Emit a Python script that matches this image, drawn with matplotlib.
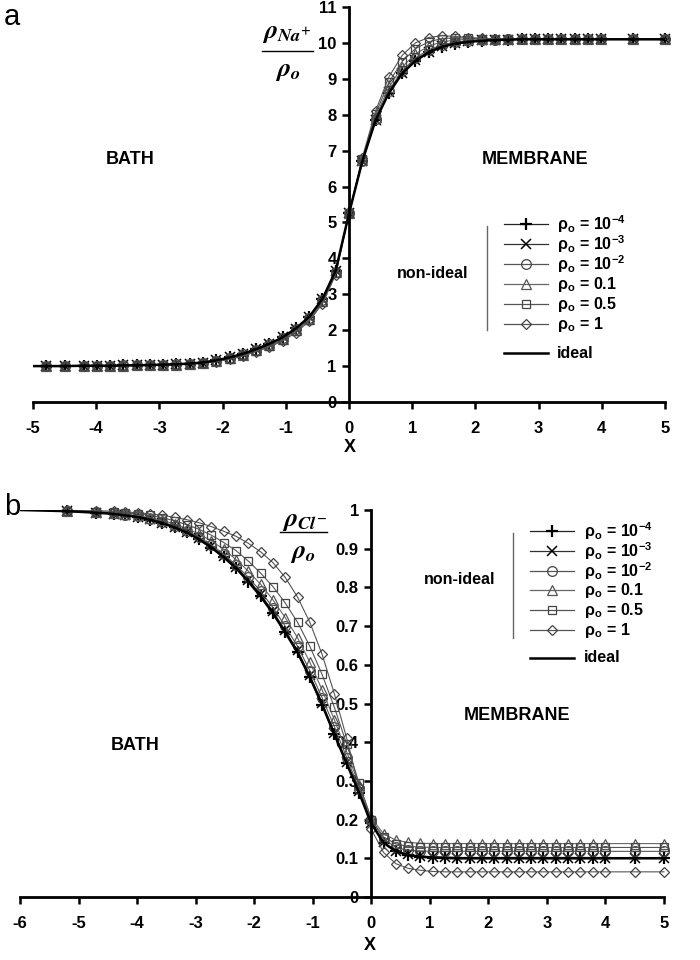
import matplotlib
matplotlib.use('Agg')
import matplotlib.pyplot as plt
from matplotlib.lines import Line2D

plt.rcParams['font.family'] = ['Liberation Sans', 'DejaVu Sans']
plt.rcParams['font.weight'] = 'bold'
plt.rcParams['mathtext.fontset'] = 'stix'

# ---------------- data: panel a (Na+) ----------------
xa = [-4.8, -4.5, -4.2, -3.99, -3.78, -3.57, -3.36, -3.15, -2.94, -2.73, -2.52,
      -2.31, -2.10, -1.89, -1.68, -1.47, -1.26, -1.05, -0.84, -0.63, -0.42, -0.21,
      0.0, 0.21, 0.42, 0.63, 0.84, 1.05, 1.26, 1.47, 1.68, 1.89, 2.10, 2.31, 2.52,
      2.73, 2.94, 3.15, 3.36, 3.57, 3.78, 3.99, 4.5, 5.0]
xa_ideal = [-5.0] + xa

na_ideal = [1.00, 1.00, 1.00, 1.01, 1.01, 1.01, 1.02, 1.02, 1.03, 1.04, 1.05, 1.07, 1.10,
            1.16, 1.24, 1.34, 1.47, 1.62, 1.80, 2.05, 2.37, 2.87, 3.66, 5.25,
            6.70, 7.85, 8.60, 9.15, 9.50, 9.74, 9.89, 9.98, 10.03, 10.06, 10.08, 10.09,
            10.10, 10.10, 10.10, 10.10, 10.10, 10.10, 10.10, 10.10, 10.10]
na_1e4 = [1.00, 1.00, 1.01, 1.01, 1.01, 1.02, 1.02, 1.03, 1.04, 1.05, 1.07, 1.10,
          1.16, 1.24, 1.34, 1.47, 1.62, 1.80, 2.05, 2.37, 2.87, 3.66, 5.25,
          6.70, 7.85, 8.60, 9.15, 9.50, 9.74, 9.89, 9.98, 10.03, 10.06, 10.08, 10.09,
          10.10, 10.10, 10.10, 10.10, 10.10, 10.10, 10.10, 10.10, 10.10]
na_1e3 = [1.00, 1.00, 1.01, 1.01, 1.01, 1.02, 1.02, 1.03, 1.04, 1.05, 1.07, 1.10,
          1.16, 1.24, 1.34, 1.47, 1.62, 1.80, 2.04, 2.36, 2.86, 3.65, 5.25,
          6.70, 7.86, 8.62, 9.17, 9.52, 9.76, 9.90, 9.99, 10.04, 10.07, 10.08, 10.09,
          10.10, 10.10, 10.10, 10.10, 10.10, 10.10, 10.10, 10.10, 10.10]
na_1e2 = [1.00, 1.00, 1.01, 1.01, 1.01, 1.02, 1.02, 1.03, 1.04, 1.05, 1.07, 1.10,
          1.15, 1.23, 1.33, 1.46, 1.61, 1.79, 2.03, 2.35, 2.84, 3.63, 5.25,
          6.71, 7.89, 8.67, 9.22, 9.58, 9.81, 9.94, 10.02, 10.06, 10.08, 10.09, 10.10,
          10.10, 10.10, 10.10, 10.10, 10.10, 10.10, 10.10, 10.10, 10.10]
na_01 = [1.00, 1.00, 1.00, 1.01, 1.01, 1.01, 1.02, 1.02, 1.03, 1.04, 1.06, 1.09,
         1.14, 1.22, 1.32, 1.44, 1.58, 1.76, 2.00, 2.32, 2.82, 3.62, 5.25,
         6.73, 7.94, 8.76, 9.33, 9.69, 9.91, 10.03, 10.08, 10.10, 10.10, 10.10, 10.10,
         10.10, 10.10, 10.10, 10.10, 10.10, 10.10, 10.10, 10.10, 10.10]
na_05 = [1.00, 1.00, 1.00, 1.01, 1.01, 1.01, 1.02, 1.02, 1.03, 1.04, 1.06, 1.08,
         1.13, 1.20, 1.30, 1.42, 1.55, 1.73, 1.97, 2.28, 2.78, 3.58, 5.25,
         6.76, 8.02, 8.90, 9.48, 9.84, 10.03, 10.12, 10.14, 10.13, 10.12, 10.11, 10.10,
         10.10, 10.10, 10.10, 10.10, 10.10, 10.10, 10.10, 10.10, 10.10]
na_1 = [1.00, 1.00, 1.00, 1.01, 1.01, 1.01, 1.02, 1.02, 1.03, 1.04, 1.06, 1.08,
        1.12, 1.19, 1.28, 1.40, 1.53, 1.70, 1.93, 2.25, 2.74, 3.55, 5.25,
        6.80, 8.10, 9.05, 9.65, 10.00, 10.15, 10.20, 10.18, 10.15, 10.13, 10.11, 10.10,
        10.10, 10.10, 10.10, 10.10, 10.10, 10.10, 10.10, 10.10, 10.10]

# ---------------- data: panel b (Cl-) ----------------
xb = [-5.2, -4.7, -4.4, -4.2, -3.99, -3.78, -3.57, -3.36, -3.15, -2.94, -2.73, -2.52,
      -2.31, -2.10, -1.89, -1.68, -1.47, -1.26, -1.05, -0.84, -0.63, -0.42, -0.21,
      0.0, 0.21, 0.42, 0.63, 0.84, 1.05, 1.26, 1.47, 1.68, 1.89, 2.10, 2.31, 2.52,
      2.73, 2.94, 3.15, 3.36, 3.57, 3.78, 3.99, 4.5, 5.0]
xb_ideal = [-6.0] + xb

cl_ideal = [1.000, 0.997, 0.993, 0.990, 0.986, 0.982, 0.975, 0.966, 0.955, 0.942, 0.924,
            0.903, 0.878, 0.850, 0.815, 0.777, 0.733, 0.684, 0.632, 0.568, 0.497, 0.420,
            0.345, 0.270, 0.190,
            0.140, 0.118, 0.108, 0.104, 0.102, 0.101, 0.100, 0.100, 0.100, 0.100, 0.100,
            0.100, 0.100, 0.100, 0.100, 0.100, 0.100, 0.100, 0.100, 0.100, 0.100]
cl_1e4 = [0.997, 0.993, 0.990, 0.986, 0.982, 0.975, 0.966, 0.955, 0.942, 0.924,
          0.903, 0.878, 0.850, 0.815, 0.777, 0.733, 0.684, 0.632, 0.568, 0.497, 0.420,
          0.345, 0.270, 0.190,
          0.140, 0.118, 0.108, 0.104, 0.102, 0.101, 0.100, 0.100, 0.100, 0.100, 0.100,
          0.100, 0.100, 0.100, 0.100, 0.100, 0.100, 0.100, 0.100, 0.100, 0.100]
cl_1e3 = [0.997, 0.993, 0.990, 0.986, 0.982, 0.976, 0.967, 0.957, 0.944, 0.927,
          0.906, 0.882, 0.854, 0.820, 0.782, 0.738, 0.689, 0.637, 0.573, 0.502, 0.425,
          0.349, 0.273, 0.192,
          0.142, 0.120, 0.110, 0.106, 0.104, 0.103, 0.102, 0.102, 0.102, 0.102, 0.102,
          0.102, 0.102, 0.102, 0.102, 0.102, 0.102, 0.102, 0.102, 0.102, 0.102]
cl_1e2 = [0.997, 0.994, 0.991, 0.988, 0.984, 0.978, 0.969, 0.959, 0.946, 0.930,
          0.910, 0.886, 0.858, 0.826, 0.790, 0.748, 0.700, 0.648, 0.585, 0.515, 0.440,
          0.360, 0.280, 0.200,
          0.150, 0.128, 0.121, 0.119, 0.118, 0.118, 0.118, 0.118, 0.118, 0.118, 0.118,
          0.118, 0.118, 0.118, 0.118, 0.118, 0.118, 0.118, 0.118, 0.118, 0.118]
cl_01 = [0.998, 0.995, 0.992, 0.989, 0.986, 0.980, 0.973, 0.964, 0.952, 0.938,
         0.920, 0.898, 0.872, 0.842, 0.808, 0.768, 0.722, 0.670, 0.607, 0.535, 0.458,
         0.375, 0.290, 0.205,
         0.163, 0.147, 0.141, 0.139, 0.138, 0.138, 0.138, 0.138, 0.138, 0.138, 0.138,
         0.138, 0.138, 0.138, 0.138, 0.138, 0.138, 0.138, 0.138, 0.138, 0.138]
cl_05 = [0.998, 0.996, 0.994, 0.992, 0.990, 0.986, 0.980, 0.972, 0.962, 0.950,
         0.935, 0.916, 0.895, 0.868, 0.837, 0.802, 0.760, 0.710, 0.648, 0.575, 0.490,
         0.395, 0.295, 0.200,
         0.155, 0.137, 0.131, 0.129, 0.128, 0.128, 0.128, 0.128, 0.128, 0.128, 0.128,
         0.128, 0.128, 0.128, 0.128, 0.128, 0.128, 0.128, 0.128, 0.128, 0.128]
cl_1 = [0.999, 0.998, 0.997, 0.995, 0.993, 0.990, 0.986, 0.981, 0.975, 0.967,
        0.957, 0.945, 0.932, 0.914, 0.892, 0.864, 0.826, 0.775, 0.710, 0.627, 0.525,
        0.410, 0.285, 0.175,
        0.115, 0.086, 0.074, 0.069, 0.066, 0.065, 0.065, 0.065, 0.065, 0.065, 0.065,
        0.065, 0.065, 0.065, 0.065, 0.065, 0.065, 0.065, 0.065, 0.065, 0.065]

series_labels = ['ρ$_\\mathregular{o}$ = 10$^{\\mathregular{-4}}$',
                 'ρ$_\\mathregular{o}$ = 10$^{\\mathregular{-3}}$',
                 'ρ$_\\mathregular{o}$ = 10$^{\\mathregular{-2}}$',
                 'ρ$_\\mathregular{o}$ = 0.1',
                 'ρ$_\\mathregular{o}$ = 0.5',
                 'ρ$_\\mathregular{o}$ = 1']
xticks_a = [-5, -4, -3, -2, -1, 0, 1, 2, 3, 4, 5]
yticks_a = [0, 1, 2, 3, 4, 5, 6, 7, 8, 9, 10, 11]
xticks_b = [-6, -5, -4, -3, -2, -1, 0, 1, 2, 3, 4, 5]
yticks_b = [0, 0.1, 0.2, 0.3, 0.4, 0.5, 0.6, 0.7, 0.8, 0.9, 1]
yticklabels_b = ['0', '0.1', '0.2', '0.3', '0.4', '0.5', '0.6', '0.7', '0.8', '0.9', '1']

# ---------------- styles ----------------
styles = [dict(marker='+', ms=9, mew=1.6, mec='black', color='#222222'),
          dict(marker='x', ms=7, mew=1.1, mec='black', color='#333333'),
          dict(marker='o', ms=7, mew=0.9, mec='#444444', mfc='none', color='#555555'),
          dict(marker='^', ms=6.5, mew=0.9, mec='#555555', mfc='none', color='#666666'),
          dict(marker='s', ms=6, mew=0.9, mec='#444444', mfc='none', color='#555555'),
          dict(marker='D', ms=5.5, mew=0.9, mec='#444444', mfc='none', color='#555555')]

W, H = 700, 960
fig = plt.figure(figsize=(7, 9.6), dpi=100)


def fx(px):
    return px / W


def fy(py):
    return 1 - py / H


def style_axes(ax, xticks, yticks, yticklabels=None):
    for s in ['top', 'right']:
        ax.spines[s].set_visible(False)
    ax.spines['left'].set_position(('data', 0))
    ax.spines['bottom'].set_position(('data', 0))
    for s in ['left', 'bottom']:
        ax.spines[s].set_linewidth(2.0)
    ax.set_xticks(xticks)
    ax.set_yticks(yticks)
    ax.set_xticklabels([str(t) for t in xticks])
    if yticklabels is not None:
        ax.set_yticklabels(yticklabels)
    ax.tick_params(direction='out', length=5, width=1.8, labelsize=12, pad=4)
    ax.tick_params(axis='x', pad=9)
    for lab in ax.get_xticklabels() + ax.get_yticklabels():
        lab.set_fontweight('bold')
    ax.patch.set_visible(False)


def draw_legend(hx0, hx1, tx, rows, ideal_row, vx, vy0, vy1, nlx, nly):
    for st, lab, ry in zip(styles, series_labels, rows):
        fig.add_artist(Line2D([fx(hx0), fx(hx1)], [fy(ry), fy(ry)], color=st['color'],
                              lw=0.9, transform=fig.transFigure))
        kw = dict(st)
        kw.pop('color')
        fig.add_artist(Line2D([fx((hx0 + hx1) / 2)], [fy(ry)], linestyle='none',
                              transform=fig.transFigure, **kw))
        fig.text(fx(tx), fy(ry), lab, fontsize=11.5, fontweight='bold', va='center', ha='left')
    fig.add_artist(Line2D([fx(hx0), fx(hx1)], [fy(ideal_row), fy(ideal_row)], color='black',
                          lw=1.8, transform=fig.transFigure))
    fig.text(fx(tx), fy(ideal_row), 'ideal', fontsize=11.5, fontweight='bold', va='center', ha='left')
    fig.add_artist(Line2D([fx(vx), fx(vx)], [fy(vy0), fy(vy1)], color='#666666', lw=1.0,
                          transform=fig.transFigure))
    fig.text(fx(nlx), fy(nly), 'non-ideal', fontsize=11.5, fontweight='bold', va='center', ha='center')


# ---------------- panel a ----------------
axa = fig.add_axes([fx(33), fy(402), fx(665) - fx(33), fy(7) - fy(402)])
for st, ys in zip(styles, [na_1e4, na_1e3, na_1e2, na_01, na_05, na_1]):
    axa.plot(xa, ys, lw=0.8, clip_on=False, **st)
axa.plot(xa_ideal, na_ideal, color='black', lw=1.8, zorder=5)
axa.set_xlim(-5, 5)
axa.set_ylim(0, 11)
style_axes(axa, xticks_a, yticks_a)

fig.text(fx(130), fy(160), 'BATH', fontsize=13, fontweight='bold', ha='center', va='center')
fig.text(fx(535), fy(160), 'MEMBRANE', fontsize=13, fontweight='bold', ha='center', va='center')
fig.text(fx(350), fy(447), 'X', fontsize=13, fontweight='bold', ha='center', va='center')
fig.text(fx(4), fy(25), 'a', fontsize=21, fontweight='normal', ha='left', va='baseline')
fig.text(fx(287), fy(33), r'$\rho_{Na^{+}}$', fontsize=19, ha='center', va='center')
fig.add_artist(Line2D([fx(262), fx(313)], [fy(51), fy(51)], color='black', lw=1.0,
                      transform=fig.transFigure))
fig.text(fx(288), fy(71), r'$\rho_{o}$', fontsize=19, ha='center', va='center')
draw_legend(504, 548, 557, [224, 244, 264, 284, 304, 324], 353, 487, 226, 330, 433, 273)

# ---------------- panel b ----------------
axb = fig.add_axes([fx(20), fy(897), fx(664) - fx(20), fy(510) - fy(897)])
for st, ys in zip(styles, [cl_1e4, cl_1e3, cl_1e2, cl_01, cl_05, cl_1]):
    axb.plot(xb, ys, lw=0.8, clip_on=False, **st)
axb.plot(xb_ideal, cl_ideal, color='black', lw=1.8, zorder=5)
axb.set_xlim(-6, 5)
axb.set_ylim(0, 1)
style_axes(axb, xticks_b, yticks_b, yticklabels_b)

fig.text(fx(135), fy(745), 'BATH', fontsize=13, fontweight='bold', ha='center', va='center')
fig.text(fx(517), fy(715), 'MEMBRANE', fontsize=13, fontweight='bold', ha='center', va='center')
fig.text(fx(370), fy(946), 'X', fontsize=13, fontweight='bold', ha='center', va='center')
fig.text(fx(4), fy(515), 'b', fontsize=21, fontweight='normal', ha='left', va='baseline')
fig.text(fx(305), fy(521), r'$\rho_{Cl^{-}}$', fontsize=19, ha='center', va='center')
fig.add_artist(Line2D([fx(280), fx(327)], [fy(532), fy(532)], color='black', lw=1.0,
                      transform=fig.transFigure))
fig.text(fx(303), fy(553), r'$\rho_{o}$', fontsize=19, ha='center', va='center')
draw_legend(530, 574, 584, [531, 551, 571, 590, 610, 630], 658, 513, 533, 638, 460, 580)

fig.savefig('out.png', dpi=100)
